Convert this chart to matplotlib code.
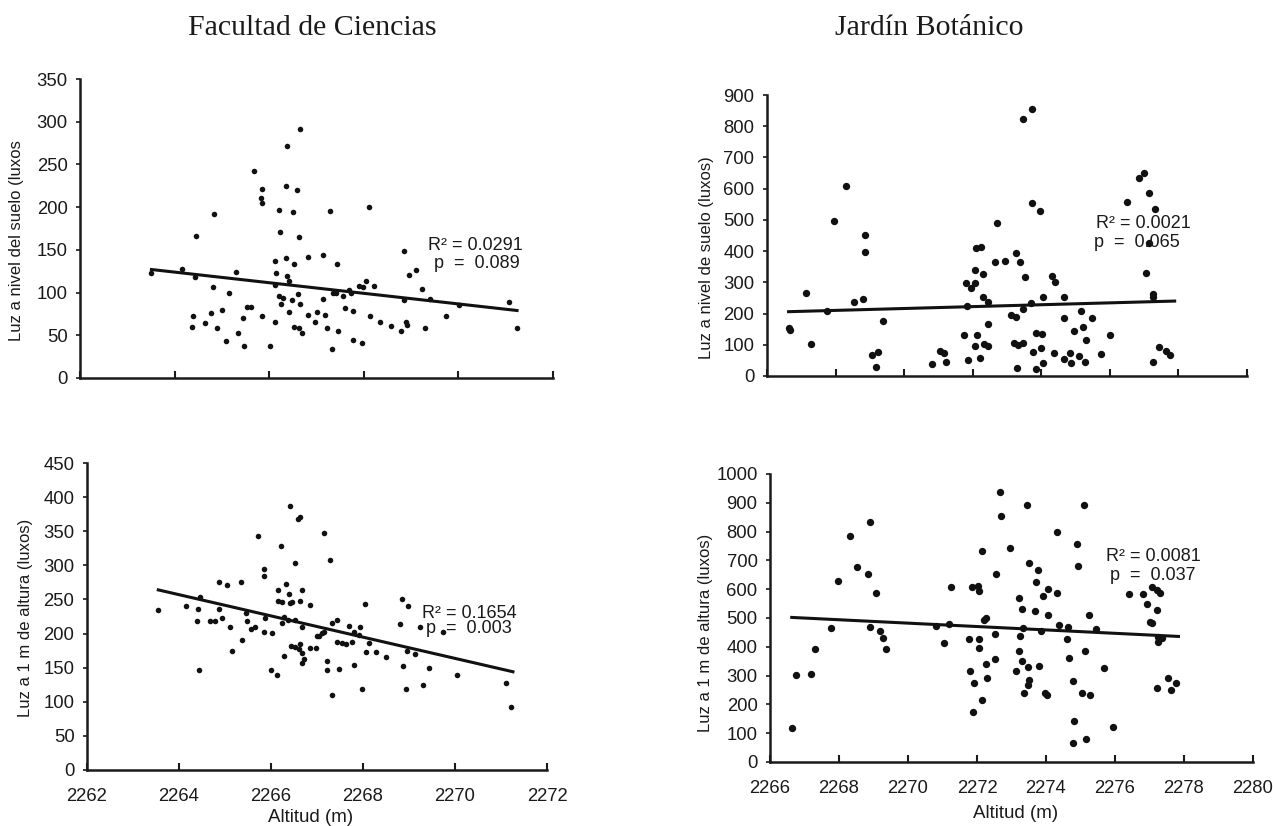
# Luz vs altitud - Facultad de Ciencias / Jardin Botanico
# -----------------------------------------------------------------------------

import matplotlib
matplotlib.use("Agg")
import matplotlib.pyplot as plt


# Data
# -----------------------------------------------------------------------------

# Facultad de Ciencias, luz a nivel del suelo
fc_suelo_x = [2263.51, 2264.15, 2264.45, 2264.43, 2264.38, 2264.37, 2264.65, 2264.76, 2264.82, 2264.83,
              2264.90, 2265.01, 2265.08, 2265.14, 2265.30, 2265.35, 2265.45, 2265.46, 2265.54, 2265.62,
              2265.68, 2265.85, 2265.84, 2265.82, 2265.84, 2266.01, 2266.12, 2266.14, 2266.12, 2266.12,
              2266.21, 2266.23, 2266.21, 2266.26, 2266.30, 2266.35, 2266.37, 2266.35, 2266.38, 2266.41,
              2266.41, 2266.49, 2266.51, 2266.52, 2266.52, 2266.58, 2266.60, 2266.63, 2266.65, 2266.66,
              2266.63, 2266.70, 2266.81, 2266.82, 2266.96, 2267.00,
              2267.14, 2267.14, 2267.19, 2267.23, 2267.28, 2267.33, 2267.35, 2267.42, 2267.44, 2267.46,
              2267.56, 2267.60, 2267.68, 2267.72, 2267.77, 2267.77, 2267.89, 2267.96, 2268.04, 2267.99,
              2268.11, 2268.13, 2268.21, 2268.34, 2268.58, 2268.79, 2268.85, 2268.86, 2268.90, 2268.92,
              2268.95, 2269.11, 2269.22, 2269.29, 2269.41, 2269.74, 2270.01, 2271.06, 2271.23]
fc_suelo_y = [123, 127.6, 166, 118, 72, 60, 64, 76, 106, 192,
              59, 80, 43, 99.5, 124, 53, 70, 37, 83, 83,
              242, 73, 221, 211, 205, 37, 137, 123, 66, 109,
              197, 171, 96, 87, 94, 225, 271, 140, 119, 113,
              77, 91, 194, 133, 60, 220, 98, 165, 87, 292,
              58, 53, 74, 142, 66, 77,
              144, 92, 74, 59, 196, 34, 99.5, 99.5, 133, 55,
              96, 82, 103, 99.5, 79, 44, 108, 41, 113, 107,
              200, 72, 108, 65, 61, 55, 149, 91, 66, 62,
              121, 126, 104, 59, 93, 73, 85, 89, 59]

# Jardin Botanico, luz a nivel de suelo
jb_suelo_x = [2266.63, 2266.68, 2267.15, 2267.29, 2267.74, 2267.95, 2268.31, 2268.54, 2268.81, 2268.87,
              2268.87, 2269.05, 2269.24, 2269.19, 2269.38, 2270.81, 2271.05, 2271.17, 2271.23, 2271.74,
              2271.81, 2271.95, 2272.07, 2271.85, 2272.08, 2272.10, 2272.24, 2272.29, 2272.13, 2272.06,
              2272.20, 2272.29, 2272.34, 2272.46, 2272.46, 2272.46, 2271.83,
              2272.71, 2272.66, 2272.93, 2273.27, 2273.37, 2273.53, 2273.46, 2273.74, 2273.73, 2273.97,
              2273.71, 2273.48, 2273.13, 2273.25, 2273.20, 2273.32, 2273.46, 2273.76, 2273.85, 2274.02,
              2274.00, 2274.05, 2273.85, 2273.30, 2274.05, 2274.32, 2274.41, 2274.37, 2274.66, 2274.66,
              2274.66, 2274.84, 2274.86, 2274.94, 2275.09, 2275.17, 2275.22, 2275.30, 2275.27, 2275.49,
              2275.73, 2276.01, 2276.49, 2276.85, 2277.00, 2277.13, 2277.32, 2277.15, 2277.05, 2277.27,
              2277.27, 2277.27, 2277.42, 2277.64, 2277.76]
jb_suelo_y = [153, 147, 265, 102, 209, 497, 609, 236, 247, 451,
              397, 67, 78, 28, 177, 38, 80, 75, 45, 131,
              297, 283, 299, 51, 339, 409, 414, 327, 130, 96,
              57, 254, 102, 97, 165, 236, 224,
              491, 364, 369, 393, 364, 318, 822, 855, 553, 528,
              233, 214, 195, 190, 105, 99, 105, 76, 139, 133,
              89, 41, 22, 25, 254, 320, 302, 75, 254, 185,
              53, 75, 43, 144, 64, 208, 156, 115, 46, 185,
              69, 131, 556, 633, 649, 585, 534, 425, 329, 262,
              252, 46, 92, 80, 67]

# Facultad de Ciencias, luz a 1 m de altura
fc_altura_x = [2263.55, 2264.15, 2264.39, 2264.42, 2264.46, 2264.43, 2264.68, 2264.79, 2264.86, 2264.86,
               2264.93, 2265.04, 2265.11, 2265.16, 2265.35, 2265.37, 2265.46, 2265.48, 2265.56, 2265.66,
               2265.72, 2265.84, 2265.84, 2265.84, 2265.88, 2266.00, 2266.02, 2266.13, 2266.15, 2266.16,
               2266.24, 2266.24, 2266.22, 2266.28, 2266.29, 2266.33, 2266.36, 2266.40, 2266.42, 2266.41,
               2266.44, 2266.46, 2266.53, 2266.52, 2266.53, 2266.59, 2266.64, 2266.60, 2266.64, 2266.68,
               2266.63, 2266.67, 2266.68, 2266.72, 2266.68, 2266.84, 2266.84, 2266.97, 2267.00,
               2267.16, 2267.29, 2267.33, 2267.43, 2267.04, 2267.11, 2267.16, 2267.43, 2267.55, 2267.62,
               2267.77, 2267.69, 2267.80, 2267.94, 2267.91, 2268.05, 2268.12, 2268.07, 2268.29, 2268.51,
               2267.21, 2267.21, 2267.48, 2267.80, 2267.33, 2267.98, 2268.81, 2268.84, 2268.97, 2268.88,
               2268.95, 2269.13, 2268.94, 2269.24, 2269.30, 2269.43, 2269.75, 2270.04, 2271.11, 2271.22]
fc_altura_y = [235, 240, 218, 236, 254, 147, 218, 218, 275, 236,
               223, 271, 209, 174, 276, 191, 230, 218, 207, 210,
               343, 294, 285, 203, 223, 146, 201, 139, 264, 247,
               246, 215, 329, 167, 225, 273, 220, 258, 245, 387,
               182, 246, 303, 220, 180, 368, 371, 177, 185, 264,
               247, 210, 171, 162, 157, 242, 179, 179, 196,
               347, 308, 215, 220, 196, 201, 203, 188, 186, 185,
               187, 211, 203, 209, 198, 243, 186, 173, 173, 166,
               160, 146, 148, 154, 110, 119, 214, 250, 241, 153,
               174, 170, 118, 209, 125, 149, 202, 139, 128, 93]

# Jardin Botanico, luz a 1 m de altura
jb_altura_x = [2266.65, 2266.74, 2267.18, 2267.30, 2267.78, 2267.98, 2268.31, 2268.53, 2268.84, 2268.89,
               2268.89, 2269.07, 2269.18, 2269.28, 2269.37, 2270.82, 2271.03, 2271.20, 2271.25, 2271.76,
               2271.80, 2271.86, 2271.92, 2271.88, 2272.02, 2272.07, 2272.05, 2272.05, 2272.15, 2272.15,
               2272.19, 2272.27, 2272.27, 2272.29,
               2272.51, 2272.51, 2272.55, 2272.67, 2272.70, 2272.96, 2273.12, 2273.21, 2273.21, 2273.25,
               2273.29, 2273.29, 2273.33, 2273.37, 2273.47, 2273.45, 2273.47, 2273.52, 2273.52, 2273.68,
               2273.71, 2273.76, 2273.81, 2273.86, 2273.90, 2273.98, 2274.03, 2274.05, 2274.05, 2274.32,
               2274.32, 2274.39, 2274.63, 2274.61, 2274.66, 2274.77, 2274.82, 2274.77, 2274.90, 2274.94,
               2275.04, 2275.11, 2275.14, 2275.16, 2275.24, 2275.27, 2275.45, 2275.69, 2275.95, 2276.41,
               2276.80, 2276.94, 2277.06, 2277.23, 2277.30, 2277.21, 2277.02, 2277.06, 2277.26, 2277.26,
               2277.35, 2277.23, 2277.55, 2277.63, 2277.76]
jb_altura_y = [119, 302, 307, 391, 466, 630, 783, 676, 653, 832,
               468, 588, 455, 432, 391, 473, 414, 479, 606, 426,
               316, 606, 273, 174, 611, 595, 426, 397, 731, 215,
               493, 499, 339, 292,
               443, 356, 653, 937, 855, 742, 316, 571, 385, 437,
               531, 350, 464, 238, 331, 891, 267, 284, 690, 526,
               626, 667, 333, 456, 577, 241, 232, 601, 510, 797,
               588, 476, 470, 427, 362, 281, 143, 66, 756, 679,
               238, 891, 385, 79, 510, 232, 462, 327, 122, 582,
               582, 548, 609, 597, 588, 528, 487, 481, 435, 418,
               432, 258, 292, 249, 275]

# Regression lines (endpoints)
fc_suelo_trend_x = [2263.51, 2271.24]
fc_suelo_trend_y = [127, 79]
jb_suelo_trend_x = [2266.63, 2277.89]
jb_suelo_trend_y = [206, 240]
fc_altura_trend_x = [2263.55, 2271.26]
fc_altura_trend_y = [264, 144]
jb_altura_trend_x = [2266.63, 2277.84]
jb_altura_trend_y = [502, 436]

# Statistics text
stats_r2 = ["R² = 0.0291", "R² = 0.0021", "R² = 0.1654", "R² = 0.0081"]
stats_p = ["p  =  0.089", "p  =  0.065", "p  =  0.003", "p  =  0.037"]

titles = ["Facultad de Ciencias", "Jardín Botánico"]
ylabels = ["Luz a nivel del suelo (luxos", "Luz a nivel de suelo (luxos)",
           "Luz a 1 m de altura (luxos)", "Luz a 1 m de altura (luxos)"]
xlabel = "Altitud (m)"


# Settings
# -----------------------------------------------------------------------------

plt.rcParams['font.family'] = ['Liberation Sans', 'DejaVu Sans']
W, H = 1273, 826
INK = "#1a1a1a"


def px_axes(left, right, bottom, top):
    # pixel box -> figure fraction
    return [left / W, 1 - bottom / H, (right - left) / W, (bottom - top) / H]


def style_axis(ax, xlim, xstep, ylim, ystep, show_xlabels):
    ax.set_xlim(*xlim)
    ax.set_ylim(*ylim)
    ax.set_xticks(range(xlim[0], xlim[1] + 1, xstep))
    ax.set_yticks(range(ylim[0], ylim[1] + 1, ystep))
    for side in ["top", "right"]:
        ax.spines[side].set_visible(False)
    for side in ["left", "bottom"]:
        ax.spines[side].set_linewidth(1.8)
        ax.spines[side].set_color(INK)
    ax.tick_params(axis="y", direction="out", length=3, width=1.2,
                   pad=6, labelsize=13.3, colors=INK)
    ax.tick_params(axis="x", direction="in", length=5, width=1.5,
                   pad=13, labelsize=13.3, colors=INK)
    if not show_xlabels:
        ax.set_xticklabels([])


def panel(ax, x, y, tx, ty, r2, p, r2_pos, p_pos, msize):
    ax.scatter(x, y, s=msize, color="#111111", zorder=3, linewidths=0)
    ax.plot(tx, ty, color="#111111", linewidth=2.2, zorder=2)
    ax.text(r2_pos[0], r2_pos[1], r2, fontsize=13, va="center", ha="left", color=INK)
    ax.text(p_pos[0], p_pos[1], p, fontsize=13, va="center", ha="left", color=INK)


# Beginning of the Programm
# -----------------------------------------------------------------------------

if __name__ == '__main__':
    fig = plt.figure(figsize=(W / 100, H / 100), dpi=100)

    ax_tl = fig.add_axes(px_axes(80, 553, 378, 79))
    ax_tr = fig.add_axes(px_axes(767, 1247, 376, 95))
    ax_bl = fig.add_axes(px_axes(87, 547, 770, 463))
    ax_br = fig.add_axes(px_axes(770, 1253, 762, 474))

    panel(ax_tl, fc_suelo_x, fc_suelo_y, fc_suelo_trend_x, fc_suelo_trend_y,
          stats_r2[0], stats_p[0], (2269.36, 154.6), (2269.48, 133.5), 16)
    style_axis(ax_tl, (2262, 2272), 2, (0, 350), 50, False)

    panel(ax_tr, jb_suelo_x, jb_suelo_y, jb_suelo_trend_x, jb_suelo_trend_y,
          stats_r2[1], stats_p[1], (2275.59, 490), (2275.53, 429), 28)
    style_axis(ax_tr, (2266, 2280), 2, (0, 900), 100, False)

    panel(ax_bl, fc_altura_x, fc_altura_y, fc_altura_trend_x, fc_altura_trend_y,
          stats_r2[2], stats_p[2], (2269.28, 230), (2269.37, 207), 16)
    style_axis(ax_bl, (2262, 2272), 2, (0, 450), 50, True)

    panel(ax_br, jb_altura_x, jb_altura_y, jb_altura_trend_x, jb_altura_trend_y,
          stats_r2[3], stats_p[3], (2275.74, 712), (2275.86, 646), 28)
    style_axis(ax_br, (2266, 2280), 2, (0, 1000), 100, True)

    # axis labels
    label_coords = [(-0.118, 0.46), (-0.110, 0.42), (-0.117, 0.495), (-0.118, 0.45)]
    for ax, lab, (cx, cy) in zip([ax_tl, ax_tr, ax_bl, ax_br], ylabels, label_coords):
        ax.set_ylabel(lab, fontsize=12, color=INK)
        ax.yaxis.set_label_coords(cx, cy)
    ax_bl.set_xlabel(xlabel, fontsize=13.5, color=INK)
    ax_bl.xaxis.set_label_coords(0.485, -0.128)
    ax_br.set_xlabel(xlabel, fontsize=13.5, color=INK)
    ax_br.xaxis.set_label_coords(0.509, -0.149)

    # column titles
    fig.text(312 / W, 1 - 35 / H, titles[0], fontsize=21.5, family="Liberation Serif",
             ha="center", va="baseline", color=INK)
    fig.text(929 / W, 1 - 35 / H, titles[1], fontsize=21.5, family="Liberation Serif",
             ha="center", va="baseline", color=INK)

    fig.savefig("out.png", dpi=100)
